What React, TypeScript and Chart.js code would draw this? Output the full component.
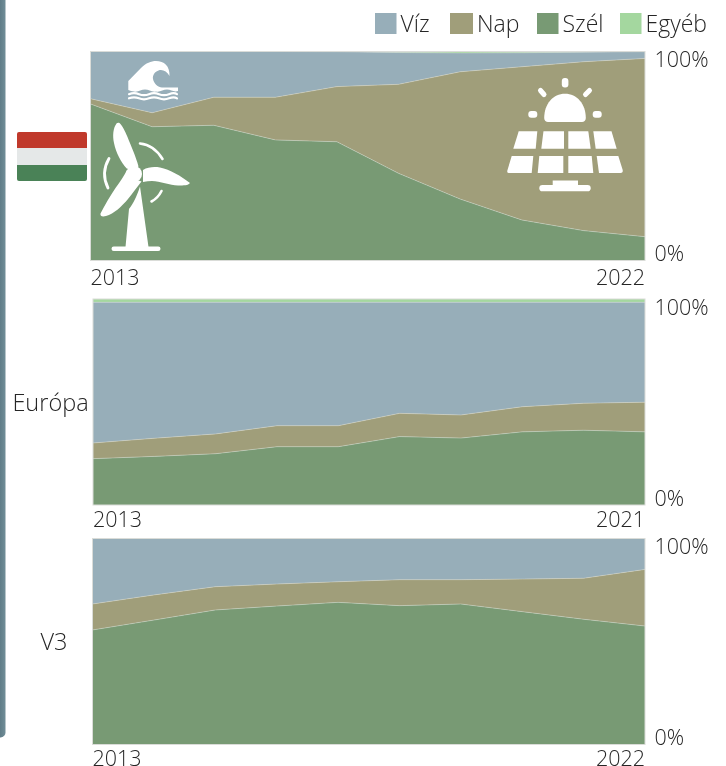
import React, { useEffect, useRef } from "react";
import { Chart, registerables } from "chart.js";

Chart.register(...registerables);

const huYears = ["2013", "2014", "2015", "2016", "2017", "2018", "2019", "2020", "2021", "2022"];
const euYears = ["2013", "", "", "", "", "", "", "", "", "2021"];
const v3Years = ["2013", "2014", "2015", "2016", "2017", "2018", "2019", "2020", "2021", "2022"];

const huWind = [74.9, 64.0, 64.7, 57.7, 56.8, 41.7, 29.4, 19.4, 14.3, 11.4];
const huSolar = [2.5, 6.7, 13.4, 20.4, 26.4, 42.6, 60.9, 73.3, 80.8, 85.3];
const huWater = [22.6, 29.3, 21.9, 21.9, 16.7, 15.2, 9.0, 6.7, 4.6, 3.2];
const huOther = [0, 0, 0, 0, 0.1, 0.5, 0.7, 0.6, 0.3, 0.1];

const euWind = [22.5, 23.6, 24.9, 28.3, 28.3, 33.2, 32.5, 35.5, 36.3, 35.5];
const euSolar = [7.6, 8.8, 9.6, 10.2, 10.2, 11.3, 11.2, 12.2, 13.1, 14.4];
const euWater = [68.3, 66.0, 63.9, 59.9, 59.9, 53.9, 54.7, 50.7, 49.0, 48.5];
const euOther = [1.6, 1.6, 1.6, 1.6, 1.6, 1.6, 1.6, 1.6, 1.6, 1.6];

const v3Wind = [55.6, 60.4, 65.3, 67.2, 69.0, 67.4, 68.2, 64.5, 60.8, 57.5];
const v3Solar = [12.6, 12.2, 11.3, 10.7, 10.0, 12.6, 11.8, 15.8, 19.9, 27.5];
const v3Water = [31.8, 27.4, 23.4, 22.1, 21.0, 20.0, 20.0, 19.7, 19.3, 15.0];
const v3Other = [0, 0, 0, 0, 0, 0, 0, 0, 0, 0];

const seriesNames = ["Szél", "Nap", "Víz", "Egyéb"];
const seriesColors = ["#789A74", "#A09E7A", "#97AEB9", "#A4D79F"];
const tickTexts = ["0%", "100%"];

const FONT = '"Open Sans", sans-serif';
const INK = "#262626";

const legendLayout = [
  { name: "Víz", x: 375, w: 21.5, tx: 400.5 },
  { name: "Nap", x: 450, w: 23, tx: 477 },
  { name: "Szél", x: 537, w: 21.5, tx: 562.5 },
  { name: "Egyéb", x: 620, w: 21.5, tx: 645.5 },
];

const framePlugin = {
  id: "frame",
  afterDatasetsDraw(chart: any) {
    const { ctx, chartArea: a } = chart;
    ctx.save();
    ctx.strokeStyle = "#DADCD8";
    ctx.lineWidth = 1;
    ctx.strokeRect(a.left, a.top, a.right - a.left, a.bottom - a.top);
    ctx.restore();
  },
};

const sideLabelPlugin = {
  id: "sideLabel",
  afterDraw(chart: any, _args: any, opts: any) {
    if (!opts || !opts.text) return;
    const { ctx } = chart;
    ctx.save();
    ctx.font = `300 23.5px ${FONT}`;
    ctx.fillStyle = INK;
    ctx.textAlign = "center";
    ctx.textBaseline = "middle";
    ctx.fillText(opts.text, opts.x, opts.y);
    ctx.restore();
  },
};

const legendPlugin = {
  id: "topLegend",
  afterDraw(chart: any, _args: any, opts: any) {
    if (!opts || !opts.show) return;
    const { ctx } = chart;
    ctx.save();
    ctx.font = `300 23px ${FONT}`;
    ctx.textBaseline = "middle";
    ctx.textAlign = "left";
    for (const item of legendLayout) {
      const ds = chart.data.datasets.find((d: any) => d.label === item.name);
      ctx.fillStyle = ds.backgroundColor;
      ctx.fillRect(item.x, 13, item.w, 21);
      ctx.fillStyle = INK;
      ctx.fillText(item.name, item.tx, 25);
    }
    ctx.restore();
  },
};

type PanelProps = {
  top: number;
  height: number;
  left: number;
  plotTop: number;
  plotBottom: number;
  labelPad: number;
  years: string[];
  series: number[][];
  side?: { text: string; x: number; y: number };
  legend?: boolean;
};

function Panel(p: PanelProps) {
  const ref = useRef<HTMLCanvasElement>(null);
  useEffect(() => {
    const plotH = p.plotBottom - p.plotTop;
    const insetTop = 9.5;
    const insetBottom = 5.5;
    const per = 100 / (plotH - insetTop - insetBottom);
    const chart = new Chart(ref.current as HTMLCanvasElement, {
      type: "line",
      data: {
        labels: p.years,
        datasets: p.series.map((values, i) => ({
          label: seriesNames[i],
          data: values,
          backgroundColor: seriesColors[i],
          borderColor: i === 3 ? seriesColors[3] : "rgba(225,228,220,0.4)",
          borderWidth: 1,
          pointRadius: 0,
          tension: 0,
          fill: i === 0 ? "origin" : "-1",
          yAxisID: "y",
        })),
      },
      options: {
        animation: false,
        responsive: false,
        devicePixelRatio: 1,
        layout: { padding: { left: p.left, top: p.plotTop, right: 0, bottom: 0 } },
        plugins: {
          legend: { display: false },
          tooltip: { enabled: false },
          sideLabel: p.side || {},
          topLegend: { show: !!p.legend },
        } as any,
        scales: {
          x: {
            type: "category",
            offset: false,
            grid: { display: false, drawTicks: false },
            border: { display: false },
            afterFit(scale: any) {
              scale.height = p.height - p.plotBottom;
            },
            ticks: {
              autoSkip: false,
              maxRotation: 0,
              minRotation: 0,
              align: "inner",
              padding: p.labelPad,
              color: INK,
              font: { family: FONT, size: 21.5, weight: "300" },
              callback(_v: any, i: number) {
                return i === 0 || i === p.years.length - 1 ? p.years[i] : "";
              },
            },
          },
          y: {
            display: false,
            stacked: true,
            min: 0,
            max: 100,
          },
          yLabels: {
            position: "right",
            min: -insetBottom * per,
            max: 100 + insetTop * per,
            grid: { display: false, drawTicks: false },
            border: { display: false },
            afterBuildTicks(scale: any) {
              scale.ticks = [{ value: 0 }, { value: 100 }];
            },
            afterFit(scale: any) {
              scale.width = 81;
            },
            ticks: {
              padding: 9.5,
              color: INK,
              font: { family: FONT, size: 21.5, weight: "300" },
              callback(v: any) {
                return v === 0 ? tickTexts[0] : tickTexts[1];
              },
            },
          },
        } as any,
      },
      plugins: [framePlugin, sideLabelPlugin, legendPlugin],
    } as any);
    return () => chart.destroy();
  }, []);
  return (
    <canvas
      ref={ref}
      width={726}
      height={p.height}
      style={{ position: "absolute", left: 0, top: p.top, width: 726, height: p.height, display: "block" }}
    />
  );
}

function Icons() {
  return (
    <svg
      width={726}
      height={766}
      viewBox="0 0 726 766"
      style={{ position: "absolute", left: 0, top: 0, pointerEvents: "none" }}
    >
      <defs>
        <linearGradient id="bar" x1="0" x2="1" y1="0" y2="0">
          <stop offset="0" stopColor="#5F7C87" />
          <stop offset="1" stopColor="#718E98" />
        </linearGradient>
      </defs>
      <path d="M0 0H5.5V732A5 5 0 0 1 0.5 737.5H0Z" fill="url(#bar)" />
      {/* flag */}
      <path d="M17 134a2 2 0 0 1 2-2H85a2 2 0 0 1 2 2V148H17Z" fill="#C0392B" />
      <rect x={17} y={148} width={70} height={17} fill="#E5E8E8" />
      <path d="M17 165H87V179a2 2 0 0 1-2 2H19a2 2 0 0 1-2-2Z" fill="#4A8257" />
      <g fill="#FFFFFF">
        {/* wave */}
        <path d="M128.3 81L141 68C146 63 151 61 156 61C164 61 170 66 169.5 76C167 71 162 69 158.5 70.5C154 72 152.5 76 153 79C154 84 158 87 162 87.5L178 87.5V91C174 92.5 171 89.5 167 89.5C163 89.5 160 92.5 156 91.5C152 92.5 149 89.5 145 89.5C141 89.5 138 92.5 134 91.5C132 91.5 130 90.5 128.3 90Z" />
        {/* turbine */}
        <path d="M116.7 123.3C113 128 112.5 136 114 143C116 153 121 162 126.7 168.5C131 170 136 169 138.5 166.5C136 157 131 146 127.5 137C125 131 122 125 119.5 123C118.5 122.5 117.5 122.5 116.7 123.3Z" />
        <path d="M143 170C148 167 154 166.5 160 167.5C170 169.5 181 176 190 183C188 185.5 184 185.5 178 185.5C170 185 160 181.5 152 181C149 181 146 181.5 143 182Z" />
        <path d="M127 170C124 176 120 182 115.5 188C110 196 105 205 100.5 213.5C100 216 102 217 106 216C114 214 122 206 128 199C133 193 137 187 141.5 181.5C136 180 130 176 127 170Z" />
        <circle cx={134} cy={174} r={8} />
        <path d="M140 186.5L148.5 247H125.5L129 209C133 204 137 196 140 186.5Z" />
        <rect x={111.5} y={246.5} width={49} height={4.5} rx={2.2} />
        {/* solar */}
        <path d="M544.2 118C544.2 104 553 93.7 565 93.7C577 93.7 585.8 104 585.8 118C585.8 120.5 584 122 582 122H548C546 122 544.2 120.5 544.2 118Z" />
        <rect x={561.8} y={78} width={6.6} height={9.5} rx={3} />
        <rect x={528.3} y={111} width={9} height={6.7} rx={3} />
        <rect x={592.7} y={111} width={9} height={6.7} rx={3} />
        <path d="M518.7 131.3H537.3L535.7 148.7H513.3Z" />
        <path d="M543.5 131.3H564V148.7H541.3Z" />
        <path d="M568.3 131.3H588.3L590.7 148.7H568.3Z" />
        <path d="M593.3 131.3H611.5L616.7 148.7H595.7Z" />
        <path d="M511.7 156H533.3L531.7 173H509Q506.5 173 507.5 170Z" />
        <path d="M539.3 156H563.3V173H537.7Z" />
        <path d="M568.3 156H591.7L593.3 173H568.3Z" />
        <path d="M596.7 156H618.3L622.7 170Q623.2 173 620.5 173H599Z" />
        <path d="M552.7 185V180.5H578V185Z" />
        <rect x={539.3} y={185} width={51.4} height={6.3} rx={3.1} />
      </g>
      <g fill="none" stroke="#FFFFFF" strokeLinecap="round">
        <path d="M140 143.5Q154 145 162.5 159" strokeWidth={2.6} />
        <path d="M109 158.5Q100.5 173 108 188" strokeWidth={2.8} />
        <path d="M151.5 201.5Q158 198 161.5 191" strokeWidth={2.6} />
        <path d="M129 94.2Q134 92.2 139 94.2T149 94.2T159 94.2T169 94.2T177 94.2" strokeWidth={2.2} />
        <path d="M129 98.3Q134 96.3 139 98.3T149 98.3T159 98.3T169 98.3T177 98.3" strokeWidth={2.2} />
        <path d="M540.5 90.5L544 94.5" strokeWidth={5} />
        <path d="M589.5 90.5L585.5 94.5" strokeWidth={5} />
      </g>
    </svg>
  );
}

export default function App() {
  return (
    <div style={{ position: "absolute", left: 0, top: 0, width: 726, height: 766, overflow: "hidden", background: "#fff" }}>
      <Panel
        top={0}
        height={310}
        left={90.5}
        plotTop={51.5}
        plotBottom={260.5}
        labelPad={5.5}
        years={huYears}
        series={[huWind, huSolar, huWater, huOther]}
        legend
      />
      <Panel
        top={260}
        height={295}
        left={93}
        plotTop={39}
        plotBottom={245}
        labelPad={3}
        years={euYears}
        series={[euWind, euSolar, euWater, euOther]}
        side={{ text: "Európa", x: 50.5, y: 144 }}
      />
      <Panel
        top={500}
        height={296}
        left={92.5}
        plotTop={38.5}
        plotBottom={244.5}
        labelPad={2}
        years={v3Years}
        series={[v3Wind, v3Solar, v3Water, v3Other]}
        side={{ text: "V3", x: 54, y: 143 }}
      />
      <Icons />
    </div>
  );
}
